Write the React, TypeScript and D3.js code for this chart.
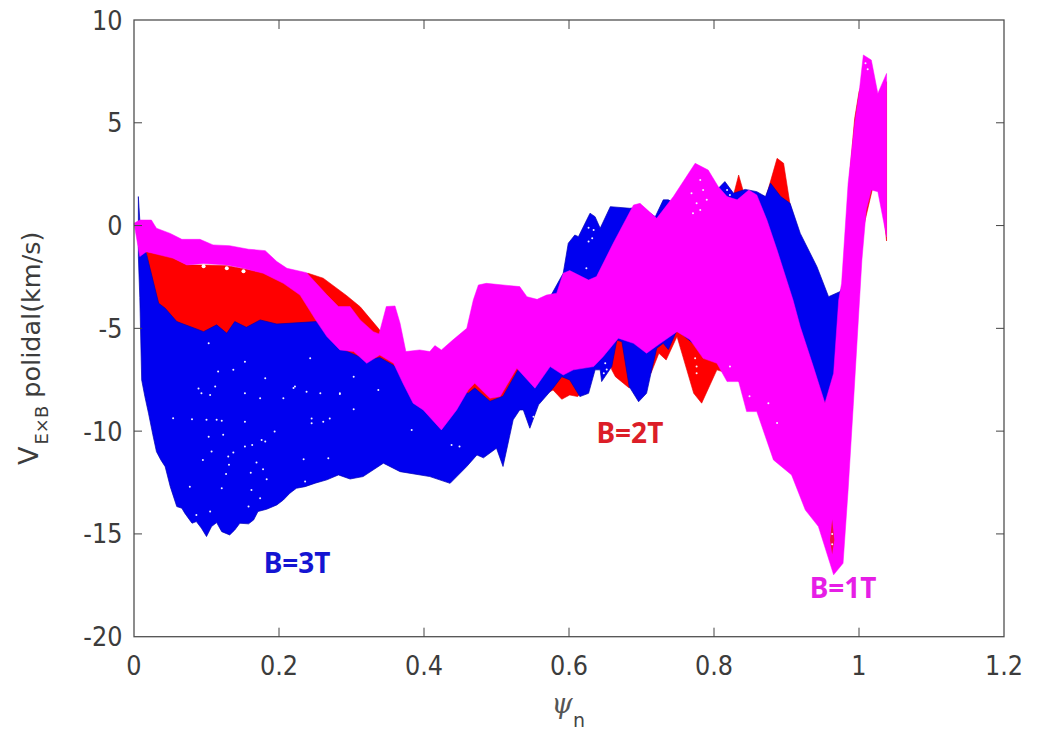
import React from "react";
import * as d3 from "d3";

const xTickValues = [0, 0.2, 0.4, 0.6, 0.8, 1, 1.2];
const yTickValues = [-20, -15, -10, -5, 0, 5, 10];

const redUpperPsi = [0.017,0.05,0.073,0.096,0.128,0.151,0.178,0.206,0.24,0.261,0.293,0.312,0.337,0.35,0.4,0.45,0.5,0.6,0.7,0.76,0.81,0.827,0.834,0.841,0.86,0.871,0.887,0.896,0.905,0.92,0.95,0.96,0.975,0.983,0.988,0.994,1.0,1.01,1.03,1.038];
const redUpperV = [-1.27,-1.5,-1.92,-1.92,-1.95,-2.1,-2.3,-2.5,-2.32,-2.56,-3.4,-3.95,-5.0,-5.6,-7,-7.5,-7,-4,-1,1.0,1.2,1.5,2.46,1.6,1.2,1.3,3.27,3.03,1.0,-1.0,-3.5,-4,-4,0,2.8,5.2,6.5,7.5,6.0,7.0];
const redLowerPsi = [0.017,0.034,0.1,0.2,0.3,0.4,0.5,0.55,0.578,0.59,0.601,0.612,0.625,0.634,0.655,0.659,0.664,0.683,0.70,0.713,0.724,0.734,0.749,0.772,0.783,0.804,0.82,0.85,0.9,0.95,0.97,0.98,1.0,1.02,1.03,1.038];
const redLowerV = [-1.35,-4.5,-6,-6,-7,-9,-9,-8.5,-8.0,-8.45,-8.24,-8.32,-7.8,-6.8,-6.5,-7.02,-7.35,-7.9,-7.5,-7.19,-6.21,-6.54,-5.4,-8.16,-8.64,-7.02,-7.2,-8,-10,-14,-16,-14,-1,2.0,2.0,-0.75];

const blueUpperPsi = [0.006,0.008,0.011,0.017,0.034,0.043,0.059,0.096,0.114,0.128,0.139,0.155,0.174,0.197,0.252,0.284,0.321,0.339,0.358,0.38,0.42,0.44,0.461,0.47,0.491,0.509,0.53,0.55,0.592,0.599,0.608,0.613,0.629,0.636,0.643,0.657,0.684,0.70,0.719,0.73,0.737,0.75,0.80,0.806,0.815,0.827,0.843,0.859,0.871,0.878,0.892,0.905,0.919,0.942,0.958,0.974,0.99];
const blueUpperV = [1.41,0.27,-1.03,-1.35,-3.78,-4.02,-4.67,-5.16,-4.83,-5.24,-4.67,-4.95,-4.59,-4.79,-4.67,-5.97,-6.54,-6.42,-6.8,-7.5,-8.8,-8.0,-8.16,-7.9,-8.55,-8.3,-7,-5,-2.32,-0.86,-0.46,-0.54,0.6,0.43,-0.13,0.92,0.84,0.9,0.43,1.25,1.25,1.0,1.2,1.81,2.14,1.57,1.76,1.65,1.41,2.06,1.41,1.08,-0.38,-2.0,-3.46,-3.21,-2];
const blueLowerPsi = [0.006,0.008,0.0106,0.015,0.02,0.026,0.031,0.037,0.043,0.05,0.059,0.066,0.07,0.08,0.086,0.093,0.1,0.107,0.114,0.121,0.132,0.139,0.146,0.158,0.165,0.171,0.183,0.197,0.206,0.215,0.224,0.236,0.25,0.266,0.282,0.298,0.316,0.344,0.367,0.408,0.436,0.459,0.473,0.482,0.5,0.509,0.523,0.532,0.537,0.546,0.558,0.578,0.59,0.601,0.615,0.627,0.636,0.643,0.645,0.659,0.666,0.673,0.683,0.696,0.707,0.713,0.721,0.73,0.737,0.749,0.78,0.83,0.88,0.93,0.953,0.975,0.99];
const blueLowerV = [-1.5,-3.5,-7.51,-8.32,-9.13,-10.18,-11.0,-11.4,-11.73,-12.7,-13.67,-13.75,-13.99,-14.48,-14.40,-14.72,-15.13,-14.64,-14.45,-14.89,-15.05,-14.81,-14.48,-14.51,-14.32,-13.91,-13.80,-13.59,-13.35,-13.02,-12.78,-12.70,-12.53,-12.37,-12.13,-12.33,-12.21,-11.56,-11.97,-12.21,-12.54,-11.72,-11.16,-11.3,-10.83,-11.72,-9.45,-8.97,-8.97,-9.86,-8.72,-7.91,-7.35,-7.51,-8.32,-8.16,-7.02,-7.02,-7.59,-6.86,-5.57,-5.65,-7.83,-8.57,-8.16,-7.19,-5.97,-5.73,-6.03,-5.08,-6,-7.2,-8.5,-8,-8.6,-8,-2];

const magentaUpperPsi = [0,0.008,0.024,0.031,0.05,0.066,0.091,0.109,0.132,0.158,0.181,0.197,0.211,0.238,0.266,0.282,0.298,0.312,0.33,0.338,0.348,0.36,0.367,0.375,0.394,0.408,0.415,0.424,0.44,0.459,0.468,0.475,0.486,0.532,0.542,0.556,0.569,0.583,0.592,0.601,0.627,0.638,0.661,0.689,0.698,0.721,0.744,0.774,0.792,0.806,0.818,0.832,0.848,0.859,0.873,0.887,0.909,0.919,0.937,0.953,0.965,0.972,0.976,0.985,0.994,1.0,1.006,1.017,1.026,1.038];
const magentaUpperV = [0.11,0.27,0.27,-0.13,-0.38,-0.67,-0.67,-0.94,-0.98,-1.15,-1.22,-1.75,-2.08,-2.29,-3.37,-3.94,-3.94,-4.59,-5.16,-5.27,-3.94,-3.91,-4.75,-6.13,-6.05,-6.13,-5.84,-6.05,-5.56,-5.0,-3.62,-2.89,-2.81,-2.97,-3.46,-3.59,-3.38,-3.29,-2.32,-2.19,-2.65,-2.48,-0.86,1.0,1.08,0.35,1.41,3.03,2.70,1.89,1.41,1.25,1.73,1.49,0.27,-1.19,-3.62,-4.92,-6.86,-8.64,-7.19,-3.62,-2.81,2.06,4.97,6.43,8.3,8.05,6.43,7.4];
const magentaLowerPsi = [0,0.008,0.017,0.054,0.073,0.096,0.128,0.151,0.178,0.206,0.229,0.252,0.266,0.284,0.303,0.321,0.339,0.358,0.371,0.385,0.399,0.424,0.445,0.461,0.47,0.491,0.505,0.528,0.553,0.574,0.592,0.606,0.634,0.647,0.668,0.689,0.707,0.726,0.749,0.767,0.785,0.804,0.818,0.834,0.845,0.859,0.882,0.907,0.926,0.944,0.965,0.978,0.985,0.992,1.004,1.01,1.017,1.026,1.038];
const magentaLowerV = [0.11,-1.51,-1.27,-1.59,-1.92,-1.84,-1.92,-2.08,-2.32,-2.81,-3.38,-4.67,-5.4,-6.05,-6.13,-6.7,-6.3,-6.7,-7.67,-8.64,-8.97,-9.94,-8.97,-8.0,-7.67,-8.4,-8.32,-6.94,-7.91,-6.86,-7.27,-7.02,-6.86,-6.38,-5.48,-5.73,-6.21,-5.73,-5.16,-5.56,-6.46,-6.7,-7.59,-7.59,-9.05,-9.05,-11.4,-12.13,-13.84,-14.64,-16.99,-16.43,-12.86,-8.81,-1.67,0.76,1.73,1.65,-0.55];

const redInsetPsi = [0.960,0.963,0.966,0.963];
const redInsetV = [-15.3,-14.3,-15.3,-16.0];

const speckPsi = [0.089,0.093,0.105,0.112,0.153,0.174,0.206,0.222,0.238,0.257,0.284,0.054,0.08,0.1,0.114,0.121,0.153,0.245,0.245,0.27,0.261,0.103,0.123,0.194,0.176,0.181,0.153,0.163,0.107,0.137,0.13,0.095,0.234,0.268,0.169,0.131,0.178,0.127,0.161,0.077,0.121,0.162,0.236,0.183,0.174,0.158,0.105,0.086,0.116,0.137,0.103,0.153,0.181,0.22,0.243,0.303,0.337,0.303,0.449,0.383,0.438,0.284,0.781,0.769,0.785,0.776,0.79,0.771,0.781,0.887,0.822,0.849,0.875,0.963,0.963,0.627,0.634,0.632,0.627,0.65,0.652,0.648,0.818,0.822,0.624,0.551,0.776,0.774,0.776,1.009,1.012];
const speckV = [-7.92,-8.16,-8.24,-7.83,-8.16,-8.4,-8.4,-7.83,-8.08,-8.16,-8.19,-9.37,-9.42,-9.45,-9.45,-9.49,-9.54,-9.38,-9.62,-9.38,-9.54,-10.27,-10.18,-10.02,-10.43,-10.51,-10.75,-10.67,-10.99,-11.04,-11.24,-11.4,-11.37,-11.32,-11.53,-11.64,-11.86,-12.08,-12.02,-12.7,-12.78,-12.86,-12.45,-12.34,-13.27,-13.67,-13.91,-14.08,-7.1,-7.02,-5.73,-6.62,-7.43,-7.9,-6.45,-7.35,-8.0,-8.94,-10.75,-9.94,-10.67,-8.16,2.22,1.57,1.73,1.08,1.25,0.6,0.76,-9.6,-6.86,-8.3,-8.64,-15.0,-15.5,-0.11,-0.21,-0.62,-0.78,-6.7,-7.0,-7.18,1.73,1.49,-2.08,-9.3,-6.86,-6.46,-7.18,7.9,7.6];
const gapPsi = [0.096,0.128,0.151];
const gapV = [-1.98,-2.08,-2.22];

const labelTexts = ["B=3T", "B=2T", "B=1T"];
const labelPsi = [0.225, 0.684, 0.978];
const labelV = [-16.9, -10.57, -18.1];
const labelColors = ["#1414d2", "#dc1e28", "#e61ee6"];

const W = 1038, H = 735;
const left = 134, right = 1004, top = 20, bottom = 636.7;

export default function App() {
  const x = d3.scaleLinear().domain([0, 1.2]).range([left, right]);
  const y = d3.scaleLinear().domain([-20, 10]).range([bottom, top]);
  const line = d3.line<[number, number]>().x(d => x(d[0])).y(d => y(d[1]));
  const band = (uP: number[], uV: number[], lP: number[], lV: number[]) => {
    const up = uP.map((p, i) => [p, uV[i]] as [number, number]);
    const lo = lP.map((p, i) => [p, lV[i]] as [number, number]).reverse();
    return line(up.concat(lo)) + "Z";
  };
  const tickFont = { fontFamily: "'DejaVu Sans'", fontSize: 24, fill: "#3c3c3c" };
  return (
    <svg width={W} height={H} viewBox={`0 0 ${W} ${H}`} style={{ position: "absolute", left: 0, top: 0, display: "block", background: "#fff" }}>
      <path d={band(redUpperPsi, redUpperV, redLowerPsi, redLowerV)} fill="#ff0000" stroke="#e80000" strokeWidth={0.6} />
      <path d={band(blueUpperPsi, blueUpperV, blueLowerPsi, blueLowerV)} fill="#0000f0" stroke="#0000b4" strokeWidth={0.7} />
      <path d={band(magentaUpperPsi, magentaUpperV, magentaLowerPsi, magentaLowerV)} fill="#ff00ff" stroke="#ff00ff" strokeWidth={0.5} />
      <path d={line(redInsetPsi.map((p, i) => [p, redInsetV[i]] as [number, number])) + "Z"} fill="#f01040" />
      {speckPsi.map((p, i) => (
        <circle key={i} cx={x(p)} cy={y(speckV[i])} r={1} fill="#f4f4ff" />
      ))}
      {gapPsi.map((p, i) => (
        <circle key={i} cx={x(p)} cy={y(gapV[i])} r={2} fill="#ffffff" />
      ))}

      <rect x={left} y={top} width={right - left} height={bottom - top} fill="none" stroke="#505050" strokeWidth={1.3} />
      {xTickValues.slice(1, -1).map(t => (
        <g key={t} stroke="#444" strokeWidth={1}>
          <line x1={x(t)} x2={x(t)} y1={bottom} y2={bottom - 9} />
          <line x1={x(t)} x2={x(t)} y1={top} y2={top + 9} />
        </g>
      ))}
      {yTickValues.slice(1, -1).map(t => (
        <g key={t} stroke="#444" strokeWidth={1}>
          <line x1={left} x2={left + 8} y1={y(t)} y2={y(t)} />
          <line x1={right} x2={right - 8} y1={y(t)} y2={y(t)} />
        </g>
      ))}
      {xTickValues.map(t => (
        <text key={t} transform={`translate(${x(t)},675) scale(1,1.12)`} textAnchor="middle" {...tickFont}>{String(t)}</text>
      ))}
      {yTickValues.map(t => (
        <text key={t} transform={`translate(122.5,${y(t) + 9.5}) scale(1,1.12)`} textAnchor="end" {...tickFont}>{String(t)}</text>
      ))}

      <text transform="translate(38,465) rotate(-90)" fontFamily="'DejaVu Sans'" fill="#3c3c3c" fontSize={27}>
        V
        <tspan fontSize={18} dy={10} dx={2}>E×B</tspan>
        <tspan fontSize={25.5} dy={-8} dx={8}>polidal(km/s)</tspan>
      </text>
      <text x={562} y={713} textAnchor="middle" fontFamily="'DejaVu Serif'" fontStyle="italic" fill="#555" fontSize={27}>ψ</text>
      <text x={579} y={727} textAnchor="middle" fontFamily="'DejaVu Sans'" fill="#444" fontSize={19}>n</text>

      {labelTexts.map((t, i) => (
        <text key={t} x={x(labelPsi[i])} y={y(labelV[i])} textAnchor="middle" fontFamily="'Noto Sans'" fontWeight={700} fontSize={28} fill={labelColors[i]}>{t}</text>
      ))}
    </svg>
  );
}
